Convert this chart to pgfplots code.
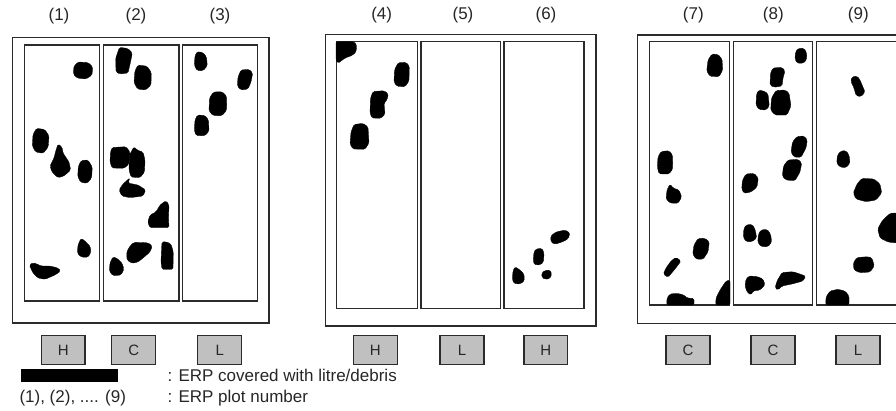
\documentclass[border=0pt]{standalone}
\usepackage{fontspec}
\setmainfont{Liberation Sans}
\usepackage{pgfplots}
\pgfplotsset{compat=1.18}
\definecolor{frame}{HTML}{2B2B2B}
\definecolor{tagfill}{HTML}{C0C0C0}
\begin{document}
\begin{tikzpicture}
\begin{axis}[
    scale only axis,
    width=896pt, height=410pt,
    xmin=0, xmax=896, ymin=0, ymax=410,
    y dir=reverse,
    hide axis,
    panel/.style={draw=frame, line width=1.2pt},
    blob/.style={fill=black, draw=black, line width=0.3pt, rounded corners=1.5pt},
    tag/.style={fill=tagfill, draw=frame, line width=1.2pt},
]
% keep the full canvas
\addplot[draw=none] coordinates {(0,0) (896,410)};

% ---- outer frames
\addplot[panel] coordinates {(12.7,37.7)(269,37.7)(269,323)(12.7,323)} --cycle;
\addplot[panel] coordinates {(325.7,34.3)(596,34.3)(596,326)(325.7,326)} --cycle;
\addplot[panel] coordinates {(637.3,35)(907,35)(907,323.3)(637.3,323.3)} --cycle;

% ---- plots 1-3
\addplot[panel] coordinates {(24.3,45)(99.3,45)(99.3,301)(24.3,301)} --cycle;
\addplot[panel] coordinates {(103.3,45)(179,45)(179,301)(103.3,301)} --cycle;
\addplot[panel] coordinates {(182.3,45)(257.3,45)(257.3,301)(182.3,301)} --cycle;
% ---- plots 4-6
\addplot[panel] coordinates {(336.7,41.7)(417.3,41.7)(417.3,308.3)(336.7,308.3)} --cycle;
\addplot[panel] coordinates {(421,41.7)(500.7,41.7)(500.7,308.3)(421,308.3)} --cycle;
\addplot[panel] coordinates {(504,41.7)(584,41.7)(584,308.3)(504,308.3)} --cycle;
% ---- plots 7-9
\addplot[panel] coordinates {(649.3,41.7)(729.3,41.7)(729.3,305)(649.3,305)} --cycle;
\addplot[panel] coordinates {(733.3,41.7)(812.7,41.7)(812.7,305)(733.3,305)} --cycle;
\addplot[panel] coordinates {(816.7,41.7)(897,41.7)(897,305)(816.7,305)} --cycle;

% ---- debris, plot 1
\addplot[blob] coordinates {(78,62)(88,62.5)(92.7,67)(92,75)(86,79)(77,78)(73.3,74)(74,66)} --cycle;
\addplot[blob] coordinates {(36.5,128.3)(44.8,129.5)(49,135.8)(48.2,147)(43.2,153.3)(35.6,152)(32.3,145.8)(33,134.5)} --cycle;
\addplot[blob] coordinates {(58,144)(62,147)(63,153)(69,162)(70.7,170)(64,176)(58,177.7)(52,172)(50,166)(54,158)(56,150)} --cycle;
\addplot[blob] coordinates {(81.3,160.5)(88,160)(92.3,167)(91.6,178)(87,183.3)(80.6,182.2)(77.7,176.3)(78.4,166)} --cycle;
\addplot[blob] coordinates {(81,238.3)(85,241)(90,246)(91,252)(88,257.3)(81,257)(77.3,253)(78,245)} --cycle;
\addplot[blob] coordinates {(29.3,265)(33,262.7)(37,264)(41,266)(50,266)(58,268)(60.7,271)(55,275)(45,279.3)(38,278)(33,273)} --cycle;

% ---- debris, plot 2
\addplot[blob] coordinates {(119.5,47.3)(128,48.5)(132.3,53)(130.5,62)(128,73)(120,74)(116,72)(115.7,58)} --cycle;
\addplot[blob] coordinates {(138,65)(147,66.2)(151.3,72.5)(151,85)(145.5,90)(137.5,89)(134,82.5)(134.9,71)} --cycle;
\addplot[blob] coordinates {(112,147.5)(126,146.7)(130,152)(129,164)(124,168.3)(112,168)(110,162)(110.5,152)} --cycle;
\addplot[blob] coordinates {(134,146.7)(137,150)(143,152)(145,160)(144.5,172)(140,177.7)(131,177)(129,170)(129.5,155)} --cycle;
\addplot[blob] coordinates {(130,177.7)(128,183)(138,185)(145.7,190)(143,196)(130,197.7)(122,196)(119,190)(123,184)} --cycle;
\addplot[blob] coordinates {(166,200.7)(169,205)(168.5,218)(169,227.7)(150,227.7)(147.7,222)(150,215)(156,212)(160,205)} --cycle;
\addplot[blob] coordinates {(113,256.7)(118,259)(122,263)(124,269)(121,275)(113,275.7)(109.3,271)(110,263)} --cycle;
\addplot[blob] coordinates {(134,242.3)(148,242.8)(152.3,246)(150,252)(143,258)(138,262)(132,263.3)(127,260)(126.7,252)(130,246)} --cycle;
\addplot[blob] coordinates {(162,242)(166,241.7)(171,244)(173.3,252)(173,269.3)(162,269.3)(161,262)(161.5,250)} --cycle;

% ---- debris, plot 3
\addplot[blob] coordinates {(197,51.7)(203,52.5)(206.5,57)(207.3,66)(203,70.7)(197,70.5)(194.3,65)(195,56)} --cycle;
\addplot[blob] coordinates {(241,70)(249,69.3)(252.7,73)(251,82)(248,89)(241,90)(237.3,86)(238,77)} --cycle;
\addplot[blob] coordinates {(213.5,92)(222,91.7)(226.5,96)(226.7,110)(222,115.7)(213,115.5)(209,111)(209.5,98)} --cycle;
\addplot[blob] coordinates {(197.5,115)(205,115.5)(208.5,120)(209,131)(205,135.7)(196,135.5)(194.3,130)(195,120)} --cycle;

% ---- debris, plot 4
\addplot[blob] coordinates {(336,41.7)(354,41.7)(356.7,45)(356,52)(352,55.5)(345,58)(338,63.3)(336,60)} --cycle;
\addplot[blob] coordinates {(398,62.8)(406,62.3)(409.3,66)(409,81)(405,86.7)(397,86.3)(394,82)(394.5,70)} --cycle;
\addplot[blob] coordinates {(373,91.5)(384,90.7)(388.3,94)(387,100)(384,103)(385,114)(381,118.3)(372,118)(370,113)(370.5,98)} --cycle;
\addplot[blob] coordinates {(354,124.5)(363,123.3)(368,127)(369,143)(365,149.3)(353,149)(350,144)(351,132)} --cycle;

% ---- debris, plot 6
\addplot[blob] coordinates {(556,232)(565,230)(570,233)(568,239)(562,242)(555,244.3)(551,242)(550.7,236)} --cycle;
\addplot[blob] coordinates {(536,249)(542,248.3)(544,253)(543.5,262)(540,265)(534,264.5)(533.3,259)(534,252)} --cycle;
\addplot[blob] coordinates {(515,266.7)(520,270)(524,274)(524.3,281)(520,284)(514,283.5)(512.3,279)(513,271)} --cycle;
\addplot[blob] coordinates {(545,270.5)(550,270)(551.7,274)(550,278.5)(545,279.3)(542,277.5)(541.7,273)} --cycle;

% ---- debris, plot 7
\addplot[blob] coordinates {(712,54)(718,54.5)(722,59)(722.7,70)(719,76.7)(710,76.3)(706.7,71)(708,60)} --cycle;
\addplot[blob] coordinates {(661,151.5)(669,150.7)(672.5,155)(672.7,169)(669,174)(659,173.8)(657.3,167)(658,157)} --cycle;
\addplot[blob] coordinates {(670,184)(673,188)(679,190)(681.7,197)(678,203.3)(670,203)(666,199)(667,190)} --cycle;
\addplot[blob] coordinates {(698,238.5)(705,238.3)(709.3,242)(708,252)(703,259.3)(696,259)(692.7,254)(694,245)} --cycle;
\addplot[blob] coordinates {(676,257.3)(681,261)(675,269)(668,277.3)(663.3,274)(666,268)(671,261)} --cycle;
\addplot[blob] coordinates {(670,294)(677,293.3)(684,295)(687,298)(694,298.5)(694,305)(666.7,305)(667,298)} --cycle;
\addplot[blob] coordinates {(726,281)(730,280)(730,305)(715.7,305)(716,298)(720,290)} --cycle;

% ---- debris, plot 8
\addplot[blob] coordinates {(798,48.5)(804,48.3)(806.7,53)(806.5,60)(803,63.3)(797,63)(795,59)(795.5,52)} --cycle;
\addplot[blob] coordinates {(773,68)(782,67.3)(785,71)(783,78)(782,86)(774,87.3)(770,85)(770.5,73)} --cycle;
\addplot[blob] coordinates {(759,90)(765,91.5)(768,94)(769.3,106)(766,110)(759,109.5)(756,105)(756.5,94)} --cycle;
\addplot[blob] coordinates {(776,90.5)(785,90)(789,93)(791,106)(787,115)(775,115)(770.7,110)(771.5,98)} --cycle;
\addplot[blob] coordinates {(797,136.5)(804,136)(807.3,140)(806,148)(801,157.3)(794,157)(791,152)(792.5,142)} --cycle;
\addplot[blob] coordinates {(788,160)(798,159.3)(801.7,163)(800,172)(795,180.7)(786,180)(782.3,176)(783.5,166)} --cycle;
\addplot[blob] coordinates {(746,174)(754,173.3)(758.3,178)(757,187)(751,192)(744,193.3)(741.7,189)(742.5,180)} --cycle;
\addplot[blob] coordinates {(746,225)(752,224.3)(755,229)(756.7,238)(752,241.7)(746,241.5)(743.3,237)(743.8,229)} --cycle;
\addplot[blob] coordinates {(761,230)(767,229.3)(770.5,234)(771.7,242)(768,246.7)(761,246.5)(757.7,242)(758.5,234)} --cycle;
\addplot[blob] coordinates {(749,276)(757,276.5)(763,279)(765,285)(760,290)(753,291)(751,295)(747,292)(745,286)(746,279)} --cycle;
\addplot[blob] coordinates {(782,272.5)(793,271.7)(805.7,276)(803,281)(792,284)(782,286)(778,290)(775,288)(777,281)} --cycle;

% ---- debris, plot 9
\addplot[blob] coordinates {(852,77)(857,76)(860,80)(865,92)(861,96.7)(856,95.5)(854,88)(850.7,81)} --cycle;
\addplot[blob] coordinates {(841,151)(846,150.7)(849,155)(850,163)(846,167.7)(840,167)(836.7,163)(837.5,155)} --cycle;
\addplot[blob] coordinates {(862,178.3)(874,179)(880,184)(881.7,193)(876,200)(866,201.7)(856,199)(853.3,193)(857,184)} --cycle;
\addplot[blob] coordinates {(890,213.3)(897,213)(897,243)(888,242)(880,238)(877.7,229)(882,221)} --cycle;
\addplot[blob] coordinates {(857,257.5)(868,256.7)(872,258)(874.3,266)(870,272)(860,272.7)(854,270)(853.3,263)} --cycle;
\addplot[blob] coordinates {(830,291)(838,289.3)(845,291)(849,296)(849,305)(825.7,305)(826,297)} --cycle;

% ---- class tags
\addplot[tag] coordinates {(41.5,335.5)(85,335.5)(85,364.3)(41.5,364.3)} --cycle;
\addplot[tag] coordinates {(111.7,335.5)(155.7,335.5)(155.7,364.3)(111.7,364.3)} --cycle;
\addplot[tag] coordinates {(197.7,335.5)(241.7,335.5)(241.7,364.3)(197.7,364.3)} --cycle;
\addplot[tag] coordinates {(353.3,335.5)(397.3,335.5)(397.3,364.3)(353.3,364.3)} --cycle;
\addplot[tag] coordinates {(440,335.5)(484,335.5)(484,364.3)(440,364.3)} --cycle;
\addplot[tag] coordinates {(524,335.5)(567.7,335.5)(567.7,364.3)(524,364.3)} --cycle;
\addplot[tag] coordinates {(666,335.5)(710,335.5)(710,364.3)(666,364.3)} --cycle;
\addplot[tag] coordinates {(751,335.5)(795,335.5)(795,364.3)(751,364.3)} --cycle;
\addplot[tag] coordinates {(836,335.5)(880,335.5)(880,364.3)(836,364.3)} --cycle;

% ---- legend bar
\addplot[fill=black, draw=none] coordinates {(20.7,369)(118.3,369)(118.3,382)(20.7,382)} --cycle;

% ---- texts
\begin{scope}[every node/.style={font=\fontsize{17}{19}\selectfont, text=black!85}]
\node at (axis cs:59,16.3) {(1)};
\node at (axis cs:136,16.3) {(2)};
\node at (axis cs:220,16.3) {(3)};
\node at (axis cs:381.7,15.5) {(4)};
\node at (axis cs:463,15.5) {(5)};
\node at (axis cs:546,15.5) {(6)};
\node at (axis cs:693.3,15.5) {(7)};
\node at (axis cs:773.3,15.5) {(8)};
\node at (axis cs:858.3,15.5) {(9)};
\node[anchor=west] at (axis cs:164,375) {: ERP covered with litre/debris};
\node[anchor=west] at (axis cs:16,398.5) {(1), (2), .... (9)};
\node[anchor=west] at (axis cs:164,398.5) {: ERP plot number};
\end{scope}
\begin{scope}[every node/.style={font=\fontsize{15}{17}\selectfont, text=black!85}]
\node at (axis cs:63.2,350) {H};
\node at (axis cs:133.7,350) {C};
\node at (axis cs:219.7,350) {L};
\node at (axis cs:375.3,350) {H};
\node at (axis cs:462,350) {L};
\node at (axis cs:545.8,350) {H};
\node at (axis cs:688,350) {C};
\node at (axis cs:773,350) {C};
\node at (axis cs:858,350) {L};
\end{scope}
\end{axis}
\end{tikzpicture}
\end{document}
